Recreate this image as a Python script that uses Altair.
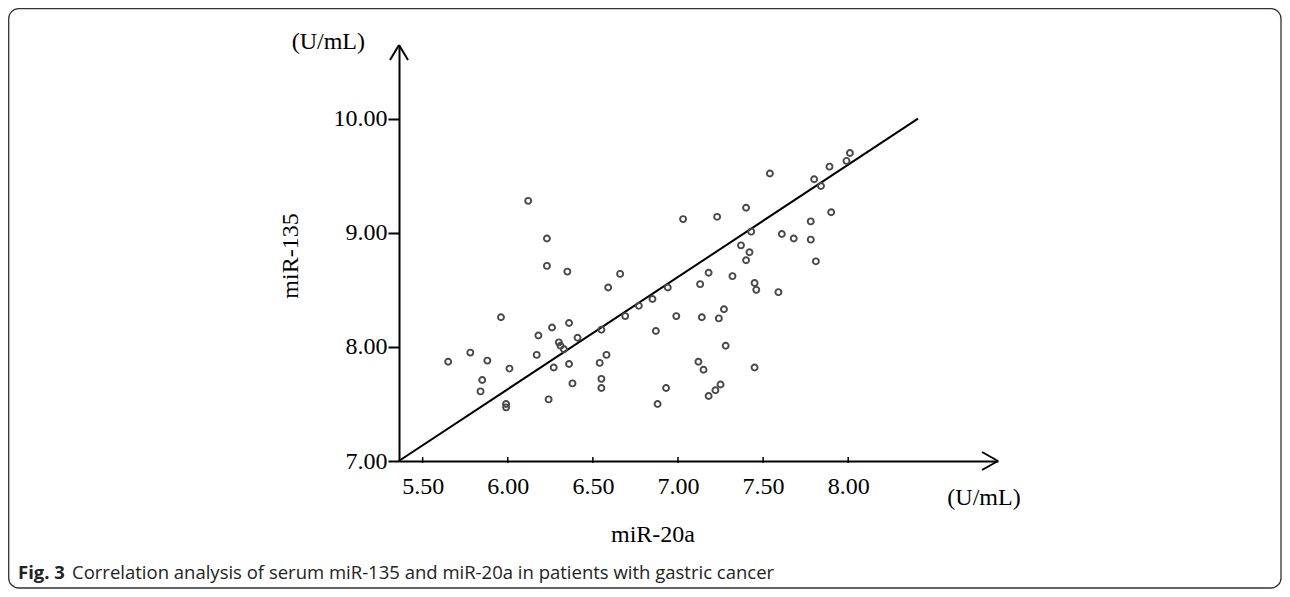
import altair as alt
import pandas as pd

# ---- data ----
mir20a = [6.12, 5.96, 6.18, 6.17, 5.65, 5.78, 5.88, 6.01, 5.85, 5.84, 5.99, 5.99,
          6.23, 6.23, 6.35, 6.66, 6.59, 6.26, 6.36, 6.30, 6.31, 6.33, 6.41, 6.55,
          6.69, 6.77, 6.27, 6.36, 6.58, 6.54, 6.38, 6.55, 6.55, 6.24,
          7.40, 7.03, 7.23, 7.43, 7.37, 7.42, 7.40, 7.18, 7.32, 7.13, 7.45, 7.46,
          6.94, 6.85, 6.99, 7.14, 7.27, 7.24, 6.87, 7.28, 7.12, 7.15, 7.45, 6.93,
          7.25, 7.22, 7.18, 6.88,
          8.01, 7.99, 7.89, 7.54, 7.80, 7.84, 7.90, 7.78, 7.61, 7.68, 7.78, 7.81, 7.59]
mir135 = [9.28, 8.26, 8.10, 7.93, 7.87, 7.95, 7.88, 7.81, 7.71, 7.61, 7.50, 7.47,
          8.95, 8.71, 8.66, 8.64, 8.52, 8.17, 8.21, 8.04, 8.01, 7.98, 8.08, 8.15,
          8.27, 8.36, 7.82, 7.85, 7.93, 7.86, 7.68, 7.72, 7.64, 7.54,
          9.22, 9.12, 9.14, 9.01, 8.89, 8.83, 8.76, 8.65, 8.62, 8.55, 8.56, 8.50,
          8.52, 8.42, 8.27, 8.26, 8.33, 8.25, 8.14, 8.01, 7.87, 7.80, 7.82, 7.64,
          7.67, 7.62, 7.57, 7.50,
          9.70, 9.63, 9.58, 9.52, 9.47, 9.41, 9.18, 9.10, 8.99, 8.95, 8.94, 8.75, 8.48]

fit_x = [5.36, 8.41]
fit_y = [7.00, 10.00]

x_ticks = [5.5, 6.0, 6.5, 7.0, 7.5, 8.0]
y_ticks = [7.0, 8.0, 9.0, 10.0]

x_domain = [5.361, 8.880]
y_domain = [7.0, 10.646]

x_title = "miR-20a"
y_title = "miR-135"
unit = "(U/mL)"
cap_bold = "Fig. 3"
cap_text = "Correlation analysis of serum miR-135 and miR-20a in patients with gastric cancer"

W, H = 599, 416
SERIF = "Liberation Serif"
SANS = "Open Sans"

pts = pd.DataFrame({"x": mir20a, "y": mir135})
fit = pd.DataFrame({"x": fit_x, "y": fit_y})
xt = pd.DataFrame({"x": x_ticks})
one = pd.DataFrame({"a": [0]})

xs = alt.Scale(domain=x_domain, nice=False, zero=False)
ys = alt.Scale(domain=y_domain, nice=False, zero=False)

x_axis = alt.Axis(values=x_ticks, format=".2f", title=None, grid=False, ticks=False,
                  domainColor="black", domainWidth=2, labelFont=SERIF, labelFontSize=24,
                  labelColor="black", labelPadding=13, labelFlush=False, labelOverlap=False)
y_axis = alt.Axis(values=y_ticks, format=".2f", title=None, grid=False, ticks=True,
                  tickSize=11, tickWidth=2, tickColor="black",
                  domainColor="black", domainWidth=2, labelFont=SERIF, labelFontSize=24,
                  labelColor="black", labelPadding=1, labelFlush=False, labelOverlap=False)

scatter = alt.Chart(pts).mark_point(shape="circle", filled=False, size=36,
                                    stroke="#484848", strokeWidth=1.9, opacity=1).encode(
    x=alt.X("x:Q", scale=xs, axis=x_axis),
    y=alt.Y("y:Q", scale=ys, axis=y_axis),
)

line = alt.Chart(fit).mark_line(color="black", strokeWidth=2).encode(
    x=alt.X("x:Q", scale=xs), y=alt.Y("y:Q", scale=ys))

xticks = alt.Chart(xt).mark_rule(color="black", strokeWidth=1.5).encode(
    x=alt.X("x:Q", scale=xs), y=alt.value(H - 4), y2=alt.value(H + 2))

def rule(x1, y1, x2, y2):
    return alt.Chart(one).mark_rule(color="black", strokeWidth=2).encode(
        x=alt.value(x1), y=alt.value(y1), x2=alt.value(x2), y2=alt.value(y2))

arrows = [rule(W, H, W - 16, H - 9), rule(W, H, W - 16, H + 9),
          rule(0, 0, -9, 15), rule(0, 0, 9, 15)]

def text(t, x, y, size=24, font=SERIF, align="left", baseline="alphabetic",
         angle=0, weight="normal", color="black"):
    return alt.Chart(one).mark_text(text=t, font=font, fontSize=size, align=align,
                                    baseline=baseline, angle=angle, fontWeight=weight,
                                    color=color).encode(x=alt.value(x), y=alt.value(y))

texts = [
    text(unit, -34, 4, align="right"),
    text(unit, 585, 460, align="center"),
    text(x_title, 254, 497, align="center"),
    text(y_title, -100.7, 211, align="center", angle=270),
    text(cap_bold, -381, 533.7, size=18.5, font=SANS, weight="bold", color="#222222"),
    text(cap_text, -327, 533.7, size=18.5, font=SANS, color="#222222"),
]

border = alt.Chart(one).mark_rect(fill="white", fillOpacity=0, stroke="#333333",
                                  strokeWidth=1.3, cornerRadius=10).encode(
    x=alt.value(-390.3), x2=alt.value(882), y=alt.value(-36.3), y2=alt.value(543))

chart = alt.layer(border, line, scatter, xticks, *arrows, *texts).properties(
    width=W, height=H,
    autosize=alt.AutoSizeParams(type="none"),
    padding={"left": 391, "top": 37, "right": 284, "bottom": 128},
).configure(background="white").configure_view(stroke=None)

chart.save("out.html", embed_options={"renderer": "svg", "actions": False})
